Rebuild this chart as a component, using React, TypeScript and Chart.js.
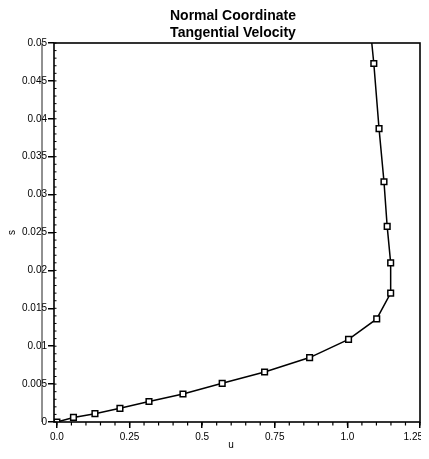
import React, { useEffect, useRef } from "react";
import { Chart, registerables } from "chart.js";

Chart.register(...registerables);

const uValues = [0, 0.057, 0.131, 0.217, 0.317, 0.434, 0.569, 0.715, 0.87, 1.004, 1.101, 1.149, 1.149, 1.137, 1.126, 1.109, 1.091, 1.084];
const sValues = [0, 0.0006, 0.0011, 0.0018, 0.0027, 0.0037, 0.0051, 0.0066, 0.0085, 0.0109, 0.0136, 0.017, 0.021, 0.0258, 0.0317, 0.0387, 0.0473, 0.05];
const markerShown = [true, true, true, true, true, true, true, true, true, true, true, true, true, true, true, true, true, false];

const xTickValues = [0, 0.25, 0.5, 0.75, 1.0, 1.25];
const xTickLabels = ["0.0", "0.25", "0.5", "0.75", "1.0", "1.25"];
const yTickValues = [0, 0.005, 0.01, 0.015, 0.02, 0.025, 0.03, 0.035, 0.04, 0.045, 0.05];
const yTickLabels = ["0", "0.005", "0.01", "0.015", "0.02", "0.025", "0.03", "0.035", "0.04", "0.045", "0.05"];
const xMinorStep = 0.05;
const yMinorStep = 0.001;

const titleLines = ["Normal Coordinate", "Tangential Velocity"];
const xTitle = "u";
const yTitle = "s";

const FONT = "'Liberation Sans', Arial, sans-serif";

const decorPlugin = {
  id: "decor",
  afterDraw(chart: any) {
    const { ctx, chartArea } = chart;
    const { left, right, top, bottom } = chartArea;
    const xs = chart.scales.x;
    const ys = chart.scales.y;
    ctx.save();
    // frame
    ctx.strokeStyle = "#000";
    ctx.lineWidth = 1.6;
    ctx.strokeRect(left, top, right - left, bottom - top);
    // stray scan line left of axis
    ctx.lineWidth = 1;
    ctx.strokeStyle = "#222";
    ctx.beginPath();
    ctx.moveTo(left - 12, top);
    ctx.lineTo(left - 12, bottom);
    ctx.stroke();
    // minor x ticks
    ctx.strokeStyle = "#000";
    ctx.lineWidth = 1.2;
    for (let v = 0; v <= 1.2501; v += xMinorStep) {
      const px = xs.getPixelForValue(v);
      ctx.beginPath();
      ctx.moveTo(px, bottom);
      ctx.lineTo(px, bottom + 3.5);
      ctx.stroke();
    }
    // minor y ticks (inward)
    ctx.lineWidth = 1;
    for (let v = 0; v <= 0.05001; v += yMinorStep) {
      const py = ys.getPixelForValue(v);
      ctx.beginPath();
      ctx.moveTo(left, py);
      ctx.lineTo(left + 2.5, py);
      ctx.stroke();
    }
    // x tick labels
    ctx.fillStyle = "#000";
    ctx.font = "10px " + FONT;
    ctx.textBaseline = "middle";
    xTickValues.forEach((v, i) => {
      const px = xs.getPixelForValue(v);
      const last = i === xTickValues.length - 1;
      ctx.textAlign = last ? "right" : "center";
      ctx.fillText(xTickLabels[i], last ? px + 3 : px, bottom + 15);
    });
    // title
    ctx.font = "bold 14px " + FONT;
    ctx.textAlign = "center";
    ctx.textBaseline = "alphabetic";
    const cx = (left + right) / 2 - 4;
    ctx.fillText(titleLines[0], cx, top - 23);
    ctx.fillText(titleLines[1], cx, top - 6);
    // x title
    ctx.font = "10px " + FONT;
    ctx.textBaseline = "middle";
    ctx.fillText(xTitle, cx - 2, bottom + 23);
    // y title
    ctx.save();
    ctx.translate(4, (top + bottom) / 2);
    ctx.rotate(-Math.PI / 2);
    ctx.fillText(yTitle, 0, 0);
    ctx.restore();
    ctx.restore();
  },
};

export default function App() {
  const ref = useRef<HTMLCanvasElement>(null);
  useEffect(() => {
    if (!ref.current) return;
    const data = uValues.map((u, i) => ({ x: u, y: sValues[i] }));
    const chart = new Chart(ref.current, {
      type: "line",
      data: {
        datasets: [
          {
            data,
            borderColor: "#000",
            borderWidth: 1.5,
            backgroundColor: "#fff",
            pointStyle: "rect",
            pointRadius: (c: any) => (markerShown[c.dataIndex] ? 4 : 0),
            pointBorderWidth: 1.5,
            pointBorderColor: "#000",
            pointBackgroundColor: "#fff",
            tension: 0,
            fill: false,
          },
        ],
      },
      options: {
        responsive: false,
        animation: false,
        devicePixelRatio: 1,
        layout: { padding: { top: 35, right: 9, bottom: 0, left: 0 } },
        plugins: { legend: { display: false }, tooltip: { enabled: false }, title: { display: false } },
        scales: {
          x: {
            type: "linear",
            min: -0.01,
            max: 1.25,
            afterBuildTicks: (s: any) => {
              s.ticks = xTickValues.map((v) => ({ value: v }));
            },
            afterFit: (s: any) => {
              s.height = 37;
              s.paddingLeft = 0;
              s.paddingRight = 0;
            },
            ticks: {
              display: false,
            },
            grid: { drawOnChartArea: false, drawTicks: true, tickLength: 6, color: "#000", lineWidth: 1.5 },
            border: { display: false },
          },
          y: {
            type: "linear",
            min: 0,
            max: 0.05,
            afterBuildTicks: (s: any) => {
              s.ticks = yTickValues.map((v) => ({ value: v }));
            },
            afterFit: (s: any) => {
              s.width = 46;
              s.paddingTop = 0;
              s.paddingBottom = 0;
            },
            ticks: {
              callback: (_v: any, i: number) => yTickLabels[i],
              font: { family: FONT, size: 10 },
              color: "#000",
              padding: 1,
              autoSkip: false,
            },
            grid: { drawOnChartArea: false, drawTicks: true, tickLength: 6, color: "#000", lineWidth: 1.5 },
            border: { display: false },
          },
        },
      },
      plugins: [decorPlugin],
    });
    return () => chart.destroy();
  }, []);
  return (
    <div style={{ width: 421, height: 451 }}>
      <canvas ref={ref} width={421} height={451} style={{ display: "block" }} />
    </div>
  );
}
